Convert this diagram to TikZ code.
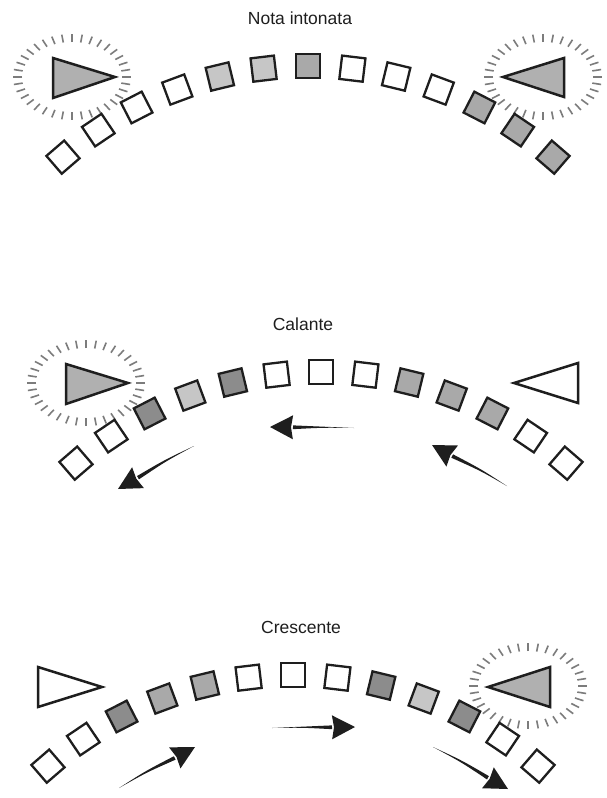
\documentclass[tikz,border=0pt]{standalone}
\usepackage{fontspec}
\setmainfont{Liberation Sans}
\usetikzlibrary{arrows.meta,calc}
\definecolor{gL}{HTML}{C6C6C6}
\definecolor{gM}{HTML}{A9A9A9}
\definecolor{gD}{HTML}{8C8C8C}
\definecolor{gT}{HTML}{B0B0B0}
\definecolor{ink}{HTML}{1E1E1E}
\definecolor{tickc}{HTML}{7C7C7C}
\tikzset{
  sqbox/.style={draw=ink, line width=2.3pt, rectangle, minimum size=23.5pt, inner sep=0pt},
  tri/.style={draw=ink, line width=2.5pt, line join=miter},
  tickmark/.style={draw=tickc, line width=1.6pt},
  flowfill/.style={fill=ink},
  title/.style={font=\fontsize{17.5}{20}\selectfont, text=ink, anchor=base, inner sep=0pt}
}
\newcommand\squarearc[4]{%
  \foreach \c [count=\i] in {#4} {%
    \pgfmathsetmacro\ang{(\i-7)*6.8}%
    \node[sqbox, fill=\c, rotate=-\ang] (#3\i) at ({#1+375*sin(\ang)},{#2+375*cos(\ang)}) {};
  }}
\newcommand\tickring[3]{%
  \coordinate (#3) at (#1,#2);
  \foreach \a in {0,10,...,350}
    \draw[tickmark] ($(#3)+(\a:50pt and 35pt)$) -- ($(#3)+(\a:59pt and 43pt)$);
}
% #1 tail, #2 tip, #3 signed bulge (positive = to the left of travel), #4 name
\newcommand\flow[4]{%
  \coordinate (#4b) at ($(#2)!23pt!(#1)$);
  \coordinate (#4m) at ($(#1)!0.5!(#4b)$);
  \coordinate (#4c) at ($(#4m)!#3!90:(#4b)$);
  \fill[flowfill] (#1) .. controls ($(#4c)!0.9pt!90:(#4b)$) .. ($(#4b)!1.9pt!90:(#2)$)
     -- ($(#4b)!1.9pt!-90:(#2)$) .. controls ($(#4c)!0.9pt!-90:(#4b)$) .. (#1) -- cycle;
  \fill[flowfill] (#2) -- ($(#4b)!12pt!90:(#2)$) -- ($(#2)!21pt!(#1)$) -- ($(#4b)!12pt!-90:(#2)$) -- cycle;
}
\begin{document}
\begin{tikzpicture}[x=1pt,y=1pt]
\useasboundingbox (0,0) rectangle (606,-798);
\fill[white] (0,0) rectangle (606,-798);

% ---------------- Nota intonata ----------------
\node[title] (t1) at (300,-24) {Nota intonata};
\tickring{72}{-77}{r1}
\tickring{543}{-77}{r2}
\draw[tri, fill=gT] (53,-58) -- (53,-98) -- (115,-77) -- cycle;
\draw[tri, fill=gT] (564,-58) -- (564,-97) -- (503,-77) -- cycle;
\squarearc{308}{-441}{a}{white,white,white,white,gL,gL,gM,white,white,white,gM,gM,gM}

% ---------------- Calante ----------------
\node[title] (t2) at (303,-330) {Calante};
\tickring{86}{-383}{r3}
\draw[tri, fill=gT] (66,-364) -- (66,-404) -- (128,-383) -- cycle;
\draw[tri, fill=white] (578,-363) -- (578,-403) -- (514,-383) -- cycle;
\squarearc{321}{-747}{b}{white,white,gD,gL,gD,white,white,white,gM,gM,gM,white,white}
\coordinate (bLt) at (194,-446); \coordinate (bLh) at (118,-489);
\coordinate (bCt) at (354,-428); \coordinate (bCh) at (270,-427);
\coordinate (bRt) at (507,-486); \coordinate (bRh) at (432,-445);
\flow{bLt}{bLh}{-1.5pt}{bL}
\flow{bCt}{bCh}{-1pt}{bC}
\flow{bRt}{bRh}{-1.5pt}{bR}

% ---------------- Crescente ----------------
\node[title] (t3) at (301,-633) {Crescente};
\tickring{528}{-686}{r4}
\draw[tri, fill=white] (38,-667) -- (38,-707) -- (102,-687) -- cycle;
\draw[tri, fill=gT] (550,-667) -- (550,-707) -- (488,-687) -- cycle;
\squarearc{293}{-1050}{c}{white,white,gD,gM,gM,white,white,white,gD,gL,gD,white,white}
\coordinate (cLt) at (119,-788); \coordinate (cLh) at (195,-747);
\coordinate (cCt) at (272,-728); \coordinate (cCh) at (355,-727);
\coordinate (cRt) at (433,-747); \coordinate (cRh) at (508,-789);
\flow{cLt}{cLh}{1.5pt}{cL}
\flow{cCt}{cCh}{1pt}{cC}
\flow{cRt}{cRh}{1.5pt}{cR}
\end{tikzpicture}
\end{document}
